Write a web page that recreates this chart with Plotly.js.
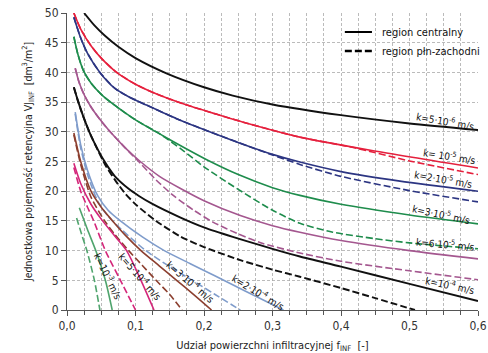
<!DOCTYPE html>
<html><head><meta charset="utf-8">
<script src="https://cdn.plot.ly/plotly-3.0.1.min.js"></script>
<style>html,body{margin:0;padding:0;background:#fff}#c{width:488px;height:353px}</style>
</head><body><div id="c"></div>
<script>
// k labels
const kLabels = ["k=5·10<sup>-6</sup> m/s","k= 10<sup>-5</sup> m/s","k=2·10<sup>-5</sup> m/s","k=3·10<sup>-5</sup> m/s","k=6·10<sup>-5</sup> m/s","k=10<sup>-4</sup> m/s","k=2·10<sup>-4</sup> m/s","k=3·10<sup>-4</sup> m/s","k=5·10<sup>-4</sup> m/s","k=10<sup>-3</sup> m/s"];
const legendNames = ["region centralny","region płn-zachodni"];
// series: f_INF (x) and VJ_INF (y); _c = region centralny (solid), _n = region płn-zachodni (dashed)
const k5e6_c_x = [0.025,0.04,0.055,0.075,0.1,0.146,0.2,0.242,0.3,0.4,0.5,0.6];
const k5e6_c_y = [50,47.9,46.2,44.3,42.4,39.8,37.5,36.1,34.6,32.8,31.4,30.3];
const k1e5_c_x = [0.010,0.02,0.035,0.05,0.0725,0.1,0.13,0.175,0.22,0.264,0.34,0.447,0.6];
const k1e5_c_y = [50,47.3,44.5,42.4,40,38.0,36.4,34.5,32.9,31.4,29.1,26.8,23.9];
const k1e5_n_x = [0.010,0.02,0.035,0.05,0.0725,0.1,0.13,0.175,0.22,0.264,0.34,0.42,0.5,0.6];
const k1e5_n_y = [50,47.3,44.5,42.4,40,38.0,36.4,34.5,32.9,31.4,29.1,27.3,25.1,22.8];
const k2e5_c_x = [0.010,0.02,0.03,0.048,0.07,0.09,0.116,0.16,0.213,0.264,0.3,0.34,0.4,0.486,0.6];
const k2e5_c_y = [49.3,45.8,43.2,40,37.3,35.9,34.5,32.2,29.8,27.6,26.2,24.9,23.3,21.7,20.0];
const k2e5_n_x = [0.010,0.02,0.03,0.048,0.07,0.09,0.116,0.16,0.213,0.264,0.3,0.34,0.4,0.5,0.6];
const k2e5_n_y = [49.3,45.8,43.2,40,37.3,35.9,34.5,32.2,29.8,27.6,26.1,24.5,22.5,20.1,18.2];
const k3e5_c_x = [0.010,0.016,0.024,0.035,0.05,0.068,0.1,0.136,0.17,0.204,0.25,0.3,0.34,0.4,0.5,0.6];
const k3e5_c_y = [46,43,40.3,38.2,36.3,34.6,32.0,29.6,27.4,25.3,22.8,20.6,19.3,17.8,16.0,14.5];
const k3e5_n_x = [0.010,0.016,0.024,0.035,0.05,0.068,0.1,0.136,0.17,0.2,0.25,0.3,0.34,0.388,0.45,0.5,0.6];
const k3e5_n_y = [46,43,40.3,38.2,36.3,34.6,32.0,29.6,26.8,24.1,20.3,16.8,14.6,13.1,12.0,11.3,10.3];
const k6e5_c_x = [0.012,0.018,0.026,0.036,0.05,0.063,0.085,0.107,0.135,0.165,0.2,0.253,0.3,0.34,0.4,0.5,0.6];
const k6e5_c_y = [40.7,38.2,36,34,31.8,30,27.3,25,22.5,20.5,18.4,15.9,14.2,13.1,11.7,10,8.6];
const k6e5_n_x = [0.012,0.018,0.026,0.036,0.05,0.063,0.085,0.107,0.13,0.156,0.185,0.213,0.25,0.286,0.34,0.4,0.5,0.6];
const k6e5_n_y = [40.7,38.2,36,34,31.8,30,27.3,24.7,21.9,19.2,16.8,14.8,12.8,11.2,9.6,8.2,6.6,5.1];
const k1e4_c_x = [0.010,0.016,0.024,0.034,0.045,0.057,0.07,0.09,0.105,0.124,0.165,0.2,0.242,0.3,0.34,0.4,0.5,0.6];
const k1e4_c_y = [37.5,35.2,32.5,29.6,27,24.6,22.5,20.4,19.2,17.9,15.6,13.9,12.3,10.3,9.0,7.3,4.4,1.5];
const k1e4_n_x = [0.010,0.016,0.024,0.034,0.045,0.057,0.07,0.085,0.101,0.13,0.165,0.2,0.253,0.3,0.34,0.4,0.45,0.508];
const k1e4_n_y = [37.5,35.2,32.5,29.6,26.9,24.2,21.9,19.6,17.7,15,12.4,10.6,8.4,6.8,5.6,3.7,2.0,0];
const k2e4_c_x = [0.012,0.02,0.03,0.045,0.06,0.078,0.11,0.142,0.18,0.215,0.26,0.316];
const k2e4_c_y = [33.3,27.8,23.5,19.2,16.8,15,12.3,10,7.8,5.8,3.2,0];
const k2e4_n_x = [0.012,0.02,0.03,0.045,0.06,0.08,0.115,0.15,0.18,0.215,0.253];
const k2e4_n_y = [33.0,27.3,22.8,18.3,15.8,13.5,10,7.3,5.2,2.7,0];
const k3e4_c_x = [0.010,0.02,0.035,0.05,0.065,0.085,0.108,0.135,0.16,0.185,0.211];
const k3e4_c_y = [29.8,25,20,17.3,15.2,12.6,10,7.4,5,2.6,0];
const k3e4_n_x = [0.010,0.02,0.035,0.055,0.07,0.09,0.11,0.13,0.15,0.168];
const k3e4_n_y = [29.5,24.5,19,15,12.7,10,7.5,5,2.6,0];
const k5e4_c_x = [0.010,0.02,0.035,0.05,0.068,0.087,0.108,0.127];
const k5e4_c_y = [24.7,21.3,17.8,15.3,12.7,10,5,0];
const k5e4_n_x = [0.010,0.02,0.03,0.039,0.056,0.078,0.1];
const k5e4_n_y = [24,20,17.3,15,10,5,0];
const k1e3_c_x = [0.018,0.03,0.042,0.056,0.066];
const k1e3_c_y = [17.2,13.5,10,5,0];
const k1e3_n_x = [0.014,0.022,0.029,0.040,0.048];
const k1e3_n_y = [15.5,12.5,10,5,0];

const DASH = "7px,3px";
function tr(x,y,color,dash,w){
  return {x:x,y:y,type:'scatter',mode:'lines',showlegend:false,hoverinfo:'skip',
    line:{color:color,width:w||1.6,dash:dash?DASH:'solid',shape:'spline',smoothing:0.7}};
}
const C = {blk:'#111111',red:'#e5203d',navy:'#2c3582',grn:'#1e8c4c',mauve:'#a4578f',lb:'#7f9ccb',brn:'#8c3f2f',mag:'#d4267a',lgrn:'#4fa46d'};
const data = [
  tr(k5e6_c_x,k5e6_c_y,C.blk,false,1.9),
  tr(k1e5_n_x,k1e5_n_y,C.red,true),
  tr(k1e5_c_x,k1e5_c_y,C.red,false),
  tr(k2e5_n_x,k2e5_n_y,C.navy,true),
  tr(k2e5_c_x,k2e5_c_y,C.navy,false),
  tr(k3e5_n_x,k3e5_n_y,C.grn,true),
  tr(k3e5_c_x,k3e5_c_y,C.grn,false),
  tr(k6e5_n_x,k6e5_n_y,C.mauve,true),
  tr(k6e5_c_x,k6e5_c_y,C.mauve,false),
  tr(k1e4_n_x,k1e4_n_y,C.blk,true,1.9),
  tr(k1e4_c_x,k1e4_c_y,C.blk,false,1.9),
  tr(k2e4_n_x,k2e4_n_y,C.lb,true),
  tr(k2e4_c_x,k2e4_c_y,C.lb,false),
  tr(k3e4_n_x,k3e4_n_y,C.brn,true),
  tr(k3e4_c_x,k3e4_c_y,C.brn,false),
  tr(k5e4_n_x,k5e4_n_y,C.mag,true),
  tr(k5e4_c_x,k5e4_c_y,C.mag,false),
  tr(k1e3_n_x,k1e3_n_y,C.lgrn,true),
  tr(k1e3_c_x,k1e3_c_y,C.lgrn,false)
];
const FONT = '"Liberation Sans Narrow","Arial Narrow","DejaVu Sans Condensed",sans-serif';
const labPos = [[0.552,31.8,10],[0.558,25.9,9],[0.550,22.0,10],[0.546,16.2,12],[0.553,11.1,5],[0.559,4.2,12],[0.279,3.0,31],[0.181,4.7,40],[0.108,5.6,49],[0.060,5.7,64]];
const annotations = kLabels.map((t,i)=>({x:labPos[i][0],y:labPos[i][1],xref:'x',yref:'y',text:t,showarrow:false,textangle:labPos[i][2],font:{family:FONT,size:10,color:'#111'}}));
// custom legend (line keys + text)
const legY = [0.936,0.872];
legendNames.forEach((n,i)=>annotations.push({x:0.762,y:legY[i],xref:'paper',yref:'paper',xanchor:'left',yanchor:'middle',text:n,showarrow:false,font:{family:FONT,size:11,color:'#111'}}));
const shapes = legY.map((y,i)=>({type:'line',xref:'paper',yref:'paper',x0:0.676,x1:0.742,y0:y,y1:y,line:{color:'#000',width:i?2.4:2,dash:i?DASH:'solid'}}));
const layout = {
  width:488,height:353,margin:{l:67,r:10,t:13,b:43},
  paper_bgcolor:'#fff',plot_bgcolor:'#fff',
  separators:', ',
  font:{family:FONT,size:11,color:'#222'},
  showlegend:false,
  xaxis:{range:[0,0.6],dtick:0.1,tickformat:'.1f',ticks:'outside',ticklen:5,tickcolor:'#555',automargin:false,
    showline:true,linecolor:'#555',linewidth:1,zeroline:false,
    showgrid:true,gridcolor:'#aaa',griddash:'3px,2px',gridwidth:0.8,
    minor:{dtick:0.025,showgrid:true,gridcolor:'#aaa',griddash:'3px,2px',gridwidth:0.8,ticks:'outside',ticklen:4,tickcolor:'#555'},
    tickfont:{size:12,color:'#333',family:FONT},
    title:{text:'Udział powierzchni infiltracyjnej f<sub>INF</sub>  [-]',font:{size:11,color:'#222',family:FONT},standoff:8}},
  yaxis:{range:[0,50],dtick:5,ticks:'outside',ticklen:5,tickcolor:'#555',automargin:false,
    showline:true,linecolor:'#555',linewidth:1,zeroline:false,
    showgrid:true,gridcolor:'#aaa',griddash:'3px,2px',gridwidth:0.8,
    tickfont:{size:12,color:'#333',family:FONT},
    title:{text:'Jednostkowa pojemność retencyjna VJ<sub>INF</sub>  [dm<sup>3</sup>/m<sup>2</sup>]',font:{size:10.5,color:'#222',family:FONT},standoff:10}},
  annotations:annotations,
  shapes:shapes
};
Plotly.newPlot('c',data,layout,{displayModeBar:false,staticPlot:true});
</script></body></html>
